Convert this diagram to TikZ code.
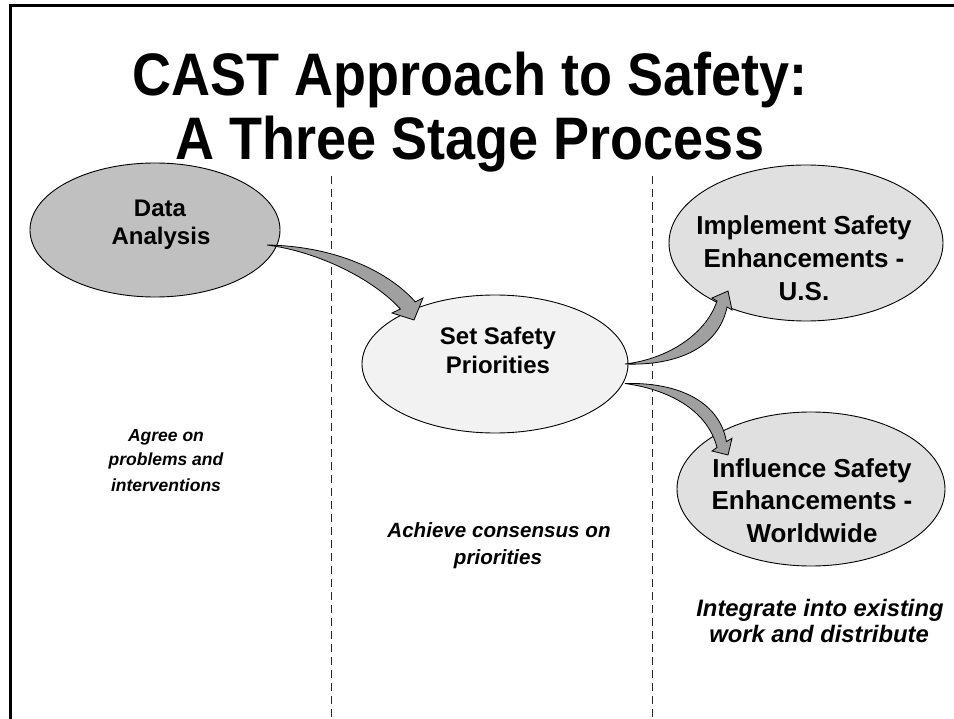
\documentclass[tikz,border=0pt]{standalone}
\usepackage{fontspec}
\setmainfont{Liberation Sans}
\usetikzlibrary{shapes.geometric}
\definecolor{gA}{HTML}{C0C0C0}
\definecolor{gB}{HTML}{F2F2F2}
\definecolor{gC}{HTML}{E0E0E0}
\definecolor{arrowgray}{HTML}{A0A0A0}
\begin{document}
\begin{tikzpicture}[x=1pt,y=-1pt,
  ov/.style={ellipse, draw=black, line width=0.9pt, inner sep=0pt},
  ttl/.style={font=\fontsize{60}{66}\selectfont\bfseries, anchor=base, inner sep=0pt, xscale=0.9},
  inb/.style={font=\fontsize{24}{28}\selectfont\bfseries, anchor=base, inner sep=0pt},
  inc/.style={font=\fontsize{26}{32}\selectfont\bfseries, anchor=base, inner sep=0pt},
  notea/.style={font=\fontsize{17.5}{22}\selectfont\bfseries\itshape, anchor=base, inner sep=0pt},
  noteb/.style={font=\fontsize{20.6}{24}\selectfont\bfseries\itshape, anchor=base, inner sep=0pt},
  notec/.style={font=\fontsize{23.8}{27}\selectfont\bfseries\itshape, anchor=base, inner sep=0pt},
  sep/.style={dash pattern=on 8pt off 5pt, line width=0.8pt, draw=black!85},
  blk/.style={fill=arrowgray, draw=black, line width=0.8pt, line join=miter}
]
\useasboundingbox (0,0) rectangle (954,719);
% frame
\draw[line width=2.7pt] (954,5.3) -- (10.3,5.3) -- (10.3,719);
% title
\node[ttl] (t1) at (470,96) {CAST Approach to Safety:};
\node[ttl] (t2) at (470,160) {A Three Stage Process};
% separators
\coordinate (s1a) at (331,176); \coordinate (s1b) at (331,719);
\coordinate (s2a) at (652,176); \coordinate (s2b) at (652,719);
\draw[sep] (s1a) -- (s1b);
\draw[sep] (s2a) -- (s2b);
% ellipses
\node[ov, fill=gA, minimum width=250, minimum height=134] (da) at (155,230) {};
\node[ov, fill=gB, minimum width=266, minimum height=138] (ss) at (495,364) {};
\node[ov, fill=gC, minimum width=274, minimum height=156] (im) at (806,243) {};
\node[ov, fill=gC, minimum width=268, minimum height=154] (in) at (811,489) {};
% ellipse texts
\node[inb] (da1) at (160,217) {Data};
\node[inb] (da2) at (161,245) {Analysis};
\node[inb] (ss1) at (498,345) {Set Safety};
\node[inb] (ss2) at (498,374) {Priorities};
\node[inc] (im1) at (804,235) {Implement Safety};
\node[inc] (im2) at (804,268) {Enhancements -};
\node[inc] (im3) at (804,301) {U.S.};
\node[inc] (in1) at (812,477) {Influence Safety};
\node[inc] (in2) at (812,509) {Enhancements -};
\node[inc] (in3) at (812,542) {Worldwide};
% notes
\node[notea] (n11) at (166,442) {Agree on};
\node[notea] (n12) at (166,466) {problems and};
\node[notea] (n13) at (166,491) {interventions};
\node[noteb] (n21) at (499,537) {Achieve consensus on};
\node[noteb] (n22) at (498,564) {priorities};
\node[notec] (n31) at (820,616) {Integrate into existing};
\node[notec] (n32) at (819,642) {work and distribute};
% arrow 1: Data Analysis -> Set Safety Priorities
\coordinate (a1s) at (267,245);
\coordinate (a1e1) at (415.3,301.8);
\coordinate (a1w1) at (423,298);
\coordinate (a1t) at (414,320);
\coordinate (a1w2) at (392,313);
\coordinate (a1e2) at (400.4,309);
\draw[blk] (a1s) .. controls (330,246) and (385,268) .. (a1e1) -- (a1w1) -- (a1t) -- (a1w2) -- (a1e2)
  .. controls (374,280) and (320,252) .. (a1s) -- cycle;
% arrow 2: Set Safety Priorities -> Implement
\coordinate (a2s) at (625,364);
\coordinate (a2e1) at (717,301);
\coordinate (a2w1) at (712,298);
\coordinate (a2t) at (728,291);
\coordinate (a2w2) at (732,310);
\coordinate (a2e2) at (727,307);
\draw[blk] (a2s) .. controls (668,359) and (706,334) .. (a2e1) -- (a2w1) -- (a2t) -- (a2w2) -- (a2e2)
  .. controls (719,347) and (678,366) .. (a2s) -- cycle;
% arrow 3: Set Safety Priorities -> Influence
\coordinate (a3s) at (625,383.5);
\coordinate (a3e1) at (726.4,441.6);
\coordinate (a3w1) at (732,438.3);
\coordinate (a3t) at (728,455);
\coordinate (a3w2) at (712,451);
\coordinate (a3e2) at (717,447.5);
\draw[blk] (a3s) .. controls (682,382) and (720,404) .. (a3e1) -- (a3w1) -- (a3t) -- (a3w2) -- (a3e2)
  .. controls (708,412) and (672,390) .. (a3s) -- cycle;
\end{tikzpicture}
\end{document}
